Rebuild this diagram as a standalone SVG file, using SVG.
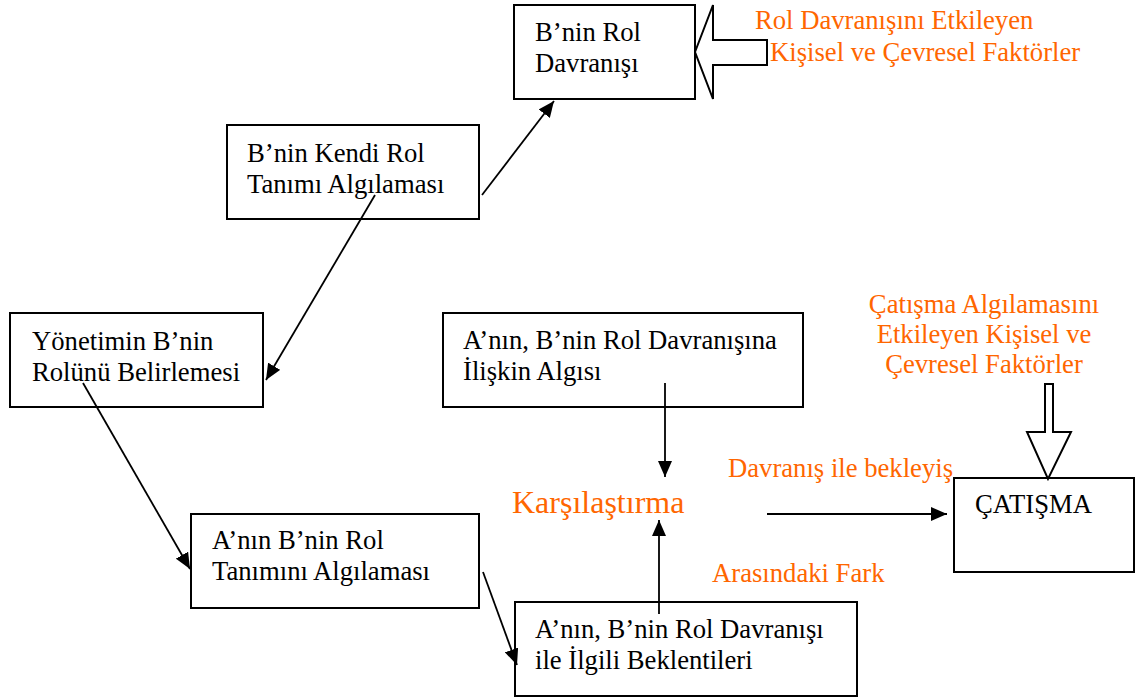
<svg xmlns="http://www.w3.org/2000/svg" width="1139" height="700" viewBox="0 0 1139 700">
  <style>
    .box { fill: #ffffff; stroke: #000000; stroke-width: 2; }
    .lbl { font-family: "Liberation Serif", "Times New Roman", serif; font-size: 26.67px; fill: #000000; }
    .note { font-family: "Liberation Serif", "Times New Roman", serif; font-size: 26.67px; fill: #FF6600; }
    .big { font-size: 32px; }
    .conn { stroke: #000000; stroke-width: 1.8; fill: none; marker-end: url(#head); }
    .hollow { fill: #ffffff; stroke: #000000; stroke-width: 2; stroke-linejoin: miter; }
  </style>
  <defs>
    <marker id="head" markerUnits="userSpaceOnUse" markerWidth="16" markerHeight="14" refX="16" refY="7" orient="auto">
      <path d="M0,0 L16,7 L0,14 Z" fill="#000000"/>
    </marker>
  </defs>

  <rect width="1139" height="700" fill="#ffffff"/>

  <!-- nodes -->
  <g id="b-rol-davranisi">
    <rect class="box" x="514" y="5" width="181" height="94"/>
    <text class="lbl" x="535" y="41">B’nin Rol</text>
    <text class="lbl" x="535" y="72">Davranışı</text>
  </g>

  <g id="b-kendi-rol">
    <rect class="box" x="227" y="125" width="252" height="94"/>
    <text class="lbl" x="247" y="162">B’nin Kendi Rol</text>
    <text class="lbl" x="247" y="193">Tanımı Algılaması</text>
  </g>

  <g id="yonetim">
    <rect class="box" x="10" y="313" width="253" height="94"/>
    <text class="lbl" x="32" y="350">Yönetimin B’nin</text>
    <text class="lbl" x="32" y="381">Rolünü Belirlemesi</text>
  </g>

  <g id="a-rol-tanimi">
    <rect class="box" x="191" y="514" width="288" height="94"/>
    <text class="lbl" x="212" y="549">A’nın B’nin Rol</text>
    <text class="lbl" x="212" y="580">Tanımını Algılaması</text>
  </g>

  <g id="a-algisi">
    <rect class="box" x="443" y="313" width="360" height="94"/>
    <text class="lbl" x="463" y="349">A’nın, B’nin Rol Davranışına</text>
    <text class="lbl" x="463" y="380">İlişkin Algısı</text>
  </g>

  <g id="a-beklentileri">
    <rect class="box" x="515" y="602" width="342" height="94"/>
    <text class="lbl" x="535" y="638">A’nın, B’nin Rol Davranışı</text>
    <text class="lbl" x="535" y="669">ile İlgili Beklentileri</text>
  </g>

  <g id="catisma">
    <rect class="box" x="954" y="478" width="180" height="94"/>
    <text class="lbl" x="975" y="513">ÇATIŞMA</text>
  </g>

  <g id="karsilastirma">
    <text class="note big" x="512" y="513">Karşılaştırma</text>
  </g>

  <!-- factor labels and their hollow arrows -->
  <g id="rol-faktorleri">
    <text class="note" x="755" y="29">Rol Davranışını Etkileyen</text>
    <text class="note" x="770" y="61">Kişisel ve Çevresel Faktörler</text>
    <path class="hollow" d="M695,52 L713,5 L713,40 L767,40 L767,65 L713,65 L713,99 Z"/>
  </g>

  <g id="catisma-faktorleri">
    <text class="note" x="984" y="313" text-anchor="middle">Çatışma Algılamasını</text>
    <text class="note" x="984" y="343" text-anchor="middle">Etkileyen Kişisel ve</text>
    <text class="note" x="984" y="373" text-anchor="middle">Çevresel Faktörler</text>
    <path class="hollow" d="M1045,384 L1053,384 L1053,432 L1071,432 L1048,479 L1027,432 L1045,432 Z"/>
  </g>

  <g id="fark-etiketi">
    <text class="note" x="728" y="477">Davranış ile bekleyiş</text>
    <text class="note" x="712" y="582">Arasındaki Fark</text>
  </g>

  <!-- connectors -->
  <g id="connectors">
    <line class="conn" x1="482" y1="195" x2="554" y2="101"/>
    <line class="conn" x1="375" y1="195" x2="266" y2="380"/>
    <line class="conn" x1="83" y1="383" x2="190" y2="569"/>
    <line class="conn" x1="483" y1="572" x2="517" y2="665"/>
    <line class="conn" x1="665" y1="383" x2="665" y2="477"/>
    <line class="conn" x1="659" y1="614" x2="659" y2="520"/>
    <line class="conn" x1="767" y1="514" x2="947" y2="514"/>
  </g>
</svg>
